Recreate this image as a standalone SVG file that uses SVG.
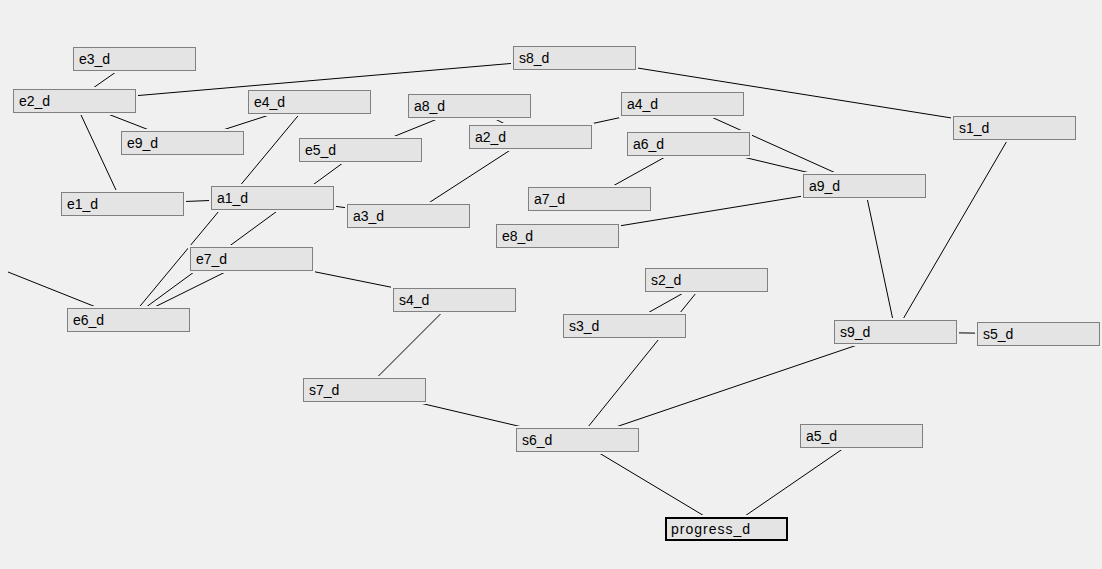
<svg xmlns="http://www.w3.org/2000/svg" width="1102" height="569" viewBox="0 0 1102 569">
  <style>
    .bg { fill: #f0f0f0; }
    .edge { stroke: #000; stroke-width: 1; fill: none; }
    .halo { fill: #f0f0f0; }
    .box { fill: #e4e4e4; stroke: #808080; stroke-width: 1; }
    .box.sel { stroke: #000; stroke-width: 2; }
    .lbl { font-family: "Liberation Sans", Arial, sans-serif; font-size: 14px; fill: #000; }
  </style>
  <defs>
    <!-- standard node: clear margin, face, label offset -->
    <rect id="haloShape" class="halo" x="-2" y="-2" width="127" height="28"/>
    <rect id="boxShape" class="box" x="0.5" y="0.5" width="122" height="23"/>
  </defs>

  <rect class="bg" x="0" y="0" width="1102" height="569"/>

  <!-- connectors run centre to centre; nodes are painted over them -->
  <g id="connectors">
    <line class="edge" x1="134.5" y1="59" x2="74.5" y2="101"/>
    <line class="edge" x1="74.5" y1="101" x2="574.5" y2="58"/>
    <line class="edge" x1="574.5" y1="58" x2="1014.5" y2="128"/>
    <line class="edge" x1="74.5" y1="101" x2="182.5" y2="143"/>
    <line class="edge" x1="309.5" y1="102" x2="182.5" y2="143"/>
    <line class="edge" x1="74.5" y1="101" x2="122.5" y2="204"/>
    <line class="edge" x1="309.5" y1="102" x2="128.5" y2="320"/>
    <line class="edge" x1="360.5" y1="150" x2="128.5" y2="320"/>
    <line class="edge" x1="251.5" y1="259" x2="128.5" y2="320"/>
    <line class="edge" x1="8" y1="272" x2="128.5" y2="320"/>
    <line class="edge" x1="469.5" y1="106" x2="360.5" y2="150"/>
    <line class="edge" x1="469.5" y1="106" x2="530.5" y2="137"/>
    <line class="edge" x1="530.5" y1="137" x2="408.5" y2="216"/>
    <line class="edge" x1="682.5" y1="104" x2="530.5" y2="137"/>
    <line class="edge" x1="682.5" y1="104" x2="864.5" y2="186"/>
    <line class="edge" x1="688.5" y1="144" x2="864.5" y2="186"/>
    <line class="edge" x1="688.5" y1="144" x2="589.5" y2="199"/>
    <line class="edge" x1="864.5" y1="186" x2="557.5" y2="236"/>
    <line class="edge" x1="864.5" y1="186" x2="895.5" y2="332"/>
    <line class="edge" x1="1014.5" y1="128" x2="895.5" y2="332"/>
    <line class="edge" x1="122.5" y1="204" x2="272.5" y2="198"/>
    <line class="edge" x1="272.5" y1="198" x2="408.5" y2="216"/>
    <line class="edge" x1="251.5" y1="259" x2="454.5" y2="300"/>
    <line class="edge" x1="454.5" y1="300" x2="364.5" y2="390"/>
    <line class="edge" x1="364.5" y1="390" x2="577.5" y2="440"/>
    <line class="edge" x1="706.5" y1="280" x2="624.5" y2="326"/>
    <line class="edge" x1="706.5" y1="280" x2="577.5" y2="440"/>
    <line class="edge" x1="895.5" y1="332" x2="577.5" y2="440"/>
    <line class="edge" x1="895.5" y1="332" x2="1038" y2="334"/>
    <line class="edge" x1="577.5" y1="440" x2="726" y2="529"/>
    <line class="edge" x1="861.5" y1="436" x2="726" y2="529"/>
  </g>

  <g id="node-e3_d" transform="translate(73,47)"><use href="#haloShape"/><use href="#boxShape"/><text class="lbl" x="6" y="17">e3_d</text></g>
  <g id="node-s8_d" transform="translate(513,46)"><use href="#haloShape"/><use href="#boxShape"/><text class="lbl" x="6" y="17">s8_d</text></g>
  <g id="node-e2_d" transform="translate(13,89)"><use href="#haloShape"/><use href="#boxShape"/><text class="lbl" x="6" y="17">e2_d</text></g>
  <g id="node-e4_d" transform="translate(248,90)"><use href="#haloShape"/><use href="#boxShape"/><text class="lbl" x="6" y="17">e4_d</text></g>
  <g id="node-a8_d" transform="translate(408,94)"><use href="#haloShape"/><use href="#boxShape"/><text class="lbl" x="6" y="17">a8_d</text></g>
  <g id="node-a4_d" transform="translate(621,92)"><use href="#haloShape"/><use href="#boxShape"/><text class="lbl" x="6" y="17">a4_d</text></g>
  <g id="node-s1_d" transform="translate(953,116)"><use href="#haloShape"/><use href="#boxShape"/><text class="lbl" x="6" y="17">s1_d</text></g>
  <g id="node-e9_d" transform="translate(121,131)"><use href="#haloShape"/><use href="#boxShape"/><text class="lbl" x="6" y="17">e9_d</text></g>
  <g id="node-e5_d" transform="translate(299,138)"><use href="#haloShape"/><use href="#boxShape"/><text class="lbl" x="6" y="17">e5_d</text></g>
  <g id="node-a2_d" transform="translate(469,125)"><use href="#haloShape"/><use href="#boxShape"/><text class="lbl" x="6" y="17">a2_d</text></g>
  <g id="node-a6_d" transform="translate(627,132)"><use href="#haloShape"/><use href="#boxShape"/><text class="lbl" x="6" y="17">a6_d</text></g>
  <g id="node-a9_d" transform="translate(803,174)"><use href="#haloShape"/><use href="#boxShape"/><text class="lbl" x="6" y="17">a9_d</text></g>
  <g id="node-e1_d" transform="translate(61,192)"><use href="#haloShape"/><use href="#boxShape"/><text class="lbl" x="6" y="17">e1_d</text></g>
  <g id="node-a1_d" transform="translate(211,186)"><use href="#haloShape"/><use href="#boxShape"/><text class="lbl" x="6" y="17">a1_d</text></g>
  <g id="node-a3_d" transform="translate(347,204)"><use href="#haloShape"/><use href="#boxShape"/><text class="lbl" x="6" y="17">a3_d</text></g>
  <g id="node-a7_d" transform="translate(528,187)"><use href="#haloShape"/><use href="#boxShape"/><text class="lbl" x="6" y="17">a7_d</text></g>
  <g id="node-e8_d" transform="translate(496,224)"><use href="#haloShape"/><use href="#boxShape"/><text class="lbl" x="6" y="17">e8_d</text></g>
  <g id="node-e7_d" transform="translate(190,247)"><use href="#haloShape"/><use href="#boxShape"/><text class="lbl" x="6" y="17">e7_d</text></g>
  <g id="node-s2_d" transform="translate(645,268)"><use href="#haloShape"/><use href="#boxShape"/><text class="lbl" x="6" y="17">s2_d</text></g>
  <g id="node-s4_d" transform="translate(393,288)"><use href="#haloShape"/><use href="#boxShape"/><text class="lbl" x="6" y="17">s4_d</text></g>
  <g id="node-e6_d" transform="translate(67,308)"><use href="#haloShape"/><use href="#boxShape"/><text class="lbl" x="6" y="17">e6_d</text></g>
  <g id="node-s3_d" transform="translate(563,314)"><use href="#haloShape"/><use href="#boxShape"/><text class="lbl" x="6" y="17">s3_d</text></g>
  <g id="node-s9_d" transform="translate(834,320)"><use href="#haloShape"/><use href="#boxShape"/><text class="lbl" x="6" y="17">s9_d</text></g>
  <g id="node-s5_d" transform="translate(977,322)"><use href="#haloShape"/><use href="#boxShape"/><text class="lbl" x="6" y="17">s5_d</text></g>
  <g id="node-s7_d" transform="translate(303,378)"><use href="#haloShape"/><use href="#boxShape"/><text class="lbl" x="6" y="17">s7_d</text></g>
  <g id="node-a5_d" transform="translate(800,424)"><use href="#haloShape"/><use href="#boxShape"/><text class="lbl" x="6" y="17">a5_d</text></g>
  <g id="node-s6_d" transform="translate(516,428)"><use href="#haloShape"/><use href="#boxShape"/><text class="lbl" x="6" y="17">s6_d</text></g>
  <!-- selected node: heavier dark outline -->
  <g id="node-progress_d" transform="translate(665,517)"><use href="#haloShape"/><rect class="box sel" x="1" y="1" width="121" height="22"/><text class="lbl" x="6" y="17" textLength="79" lengthAdjust="spacing">progress_d</text></g>
</svg>
